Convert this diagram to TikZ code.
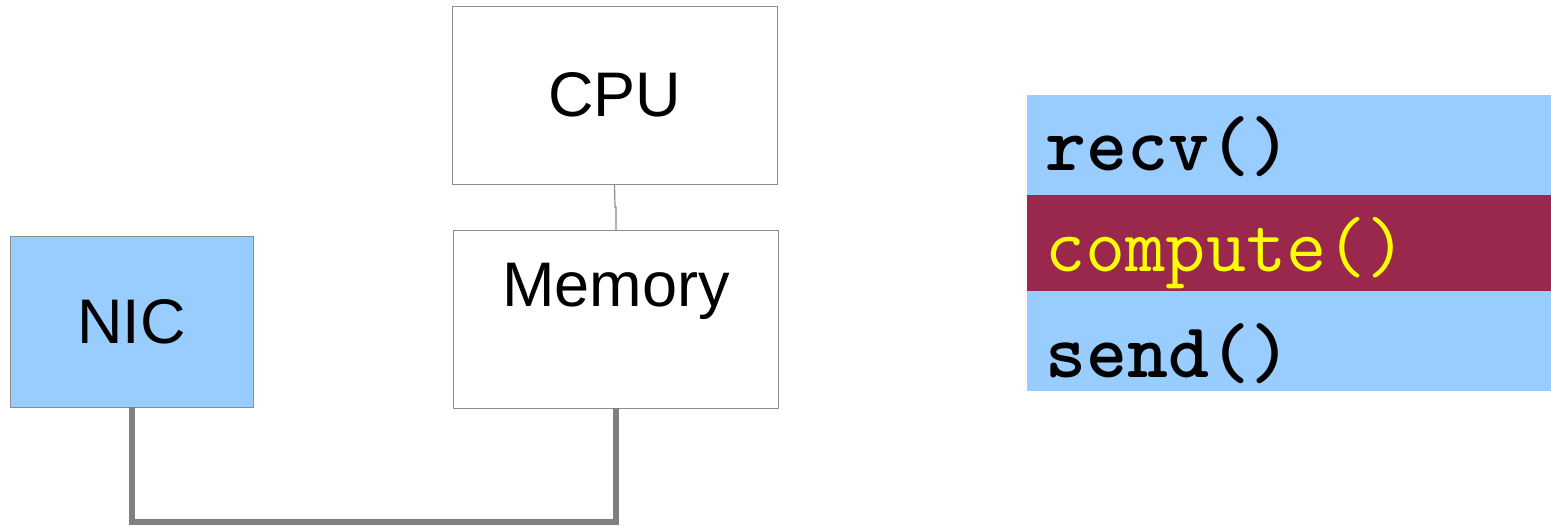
\documentclass[tikz,border=0pt]{standalone}
\usepackage{fontspec}
\setmainfont{Liberation Sans}
\definecolor{nicblue}{HTML}{99CCFF}
\definecolor{rowred}{HTML}{99284C}
\definecolor{edgegray}{HTML}{8C8C8C}
\definecolor{busgray}{HTML}{808080}
\definecolor{codeyellow}{HTML}{FFFF00}
\begin{document}
\begin{tikzpicture}[x=0.5pt,y=-0.5pt,
  box/.style={draw=edgegray,line width=0.5pt,rectangle,inner sep=0pt,outer sep=0pt,
    font=\fontsize{31.5}{37}\selectfont},
  row/.style={rectangle,inner sep=0pt,outer sep=0pt,minimum width=262pt,minimum height=#1},
  code/.style={anchor=base west,inner sep=0pt,font=\ttfamily\fontsize{39}{46}\selectfont},
  boldcode/.style={code,font=\ttfamily\bfseries\fontsize{39}{46}\selectfont},
  bus/.style={draw=busgray,line width=3pt,line join=miter}]
\useasboundingbox (0,0) rectangle (1551,526);
% CPU
\node[box,minimum width=162.5pt,minimum height=89pt] (cpu) at (614.5,95) {CPU};
% Memory
\node[box,minimum width=162.5pt,minimum height=89pt] (mem) at (615.5,319) {};
\node[inner sep=0pt,font=\fontsize{31.5}{37}\selectfont] (memlabel) at (616,291) {Memory};
% NIC
\node[box,fill=nicblue,minimum width=121.5pt,minimum height=85.5pt] (nic) at (131.5,321.5) {NIC};
% CPU - Memory link
\coordinate (j1) at (615,207);
\coordinate (j2) at (616,207);
\draw[edgegray,line width=0.6pt] (cpu.south) -- (j1) -- (j2) -- (mem.north -| j2);
% bus
\coordinate (b1) at (132,522);
\coordinate (b2) at (616,522);
\draw[bus] (nic.south -| b1) -- (b1) -- (b2) -- (mem.south -| b2);
% right rows
\node[row=50pt,fill=nicblue] (r1) at (1289,145) {};
\node[row=48pt,fill=rowred] (r2) at (1289,243) {};
\node[row=50pt,fill=nicblue] (r3) at (1289,341) {};
\node[boldcode] (t1) at (1045,170) {recv()};
\node[code,text=codeyellow] (t2) at (1045,271) {compute()};
\node[boldcode] (t3) at (1045,377) {send()};
\end{tikzpicture}
\end{document}
